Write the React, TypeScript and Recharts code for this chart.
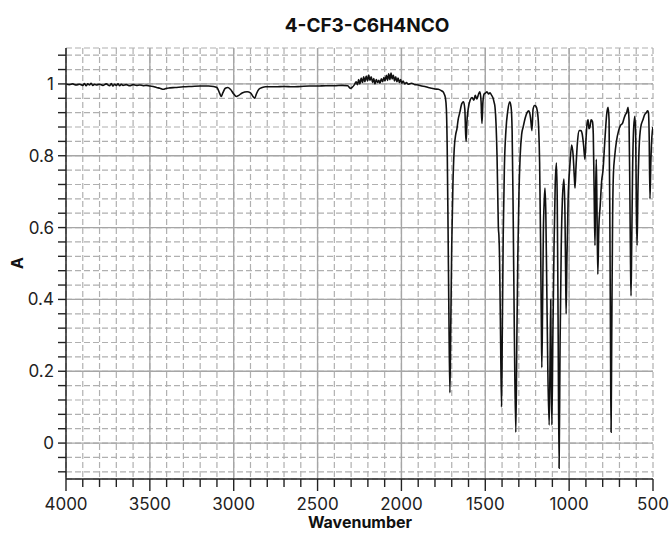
// IR spectrum of 4-CF3-C6H4NCO, recharts.

import { CartesianGrid, Line, LineChart, ReferenceLine, XAxis, YAxis } from "recharts";

// [wavenumber, absorbance], high -> low wavenumber
const highRegion: [number, number][] = [
	[4000, 1.0], [3980, 0.998], [3960, 1.0], [3940, 0.997], [3920, 0.999], [3900, 0.996],
	[3890, 1.001], [3880, 0.995], [3870, 1.0], [3860, 0.997], [3850, 1.002], [3840, 0.996],
	[3830, 0.999], [3820, 0.997], [3800, 0.999], [3780, 0.996], [3760, 1.0], [3740, 0.995],
	[3730, 1.001], [3720, 0.994], [3710, 0.999], [3700, 0.996], [3690, 1.0], [3680, 0.995],
	[3670, 0.999], [3660, 0.996], [3640, 0.998], [3620, 0.995], [3600, 0.998], [3580, 0.996],
	[3560, 0.997], [3540, 0.995], [3520, 0.996], [3500, 0.994], [3480, 0.993], [3460, 0.99],
	[3440, 0.988], [3420, 0.985], [3400, 0.988], [3380, 0.989], [3350, 0.99], [3300, 0.992],
	[3250, 0.993], [3200, 0.994], [3150, 0.994], [3120, 0.993], [3100, 0.99], [3085, 0.975],
	[3075, 0.965], [3065, 0.975], [3050, 0.988], [3035, 0.99], [3020, 0.985], [3000, 0.972],
	[2985, 0.965], [2970, 0.968], [2950, 0.975], [2920, 0.978], [2900, 0.975], [2885, 0.965],
	[2875, 0.96], [2865, 0.972], [2850, 0.985], [2830, 0.99], [2810, 0.992], [2750, 0.992],
	[2700, 0.993], [2650, 0.992], [2600, 0.993], [2550, 0.994], [2500, 0.994], [2450, 0.995],
	[2400, 0.995], [2350, 0.996], [2320, 0.995], [2305, 0.988], [2295, 0.99], [2280, 0.998],
	[2270, 1.006], [2262, 0.998], [2255, 1.012], [2248, 1.0], [2240, 1.016], [2232, 1.004],
	[2225, 1.02], [2218, 1.006], [2210, 1.022], [2202, 1.008], [2195, 1.025], [2188, 1.01],
	[2180, 1.02], [2172, 1.004], [2165, 1.015], [2158, 1.0], [2150, 1.012], [2142, 1.004],
	[2135, 1.01], [2128, 1.002], [2120, 1.014], [2112, 1.006], [2105, 1.018], [2098, 1.008],
	[2090, 1.024], [2083, 1.01], [2076, 1.028], [2069, 1.012], [2062, 1.03], [2055, 1.014],
	[2048, 1.024], [2041, 1.008], [2034, 1.02], [2027, 1.006], [2020, 1.016], [2012, 1.004],
	[2005, 1.012], [1998, 1.002], [1990, 1.008], [1980, 1.0], [1970, 1.004], [1960, 0.999],
	[1940, 1.002], [1920, 0.998], [1900, 0.997], [1880, 0.994], [1860, 0.993], [1840, 0.99],
	[1820, 0.988], [1800, 0.986], [1780, 0.985], [1765, 0.982],
];

const midRegion: [number, number][] = [
	[1752, 0.978], [1745, 0.972], [1738, 0.962], [1732, 0.93], [1727, 0.82], [1722, 0.6],
	[1717, 0.36], [1711, 0.14], [1706, 0.32], [1700, 0.55], [1693, 0.72], [1685, 0.82],
	[1676, 0.86], [1669, 0.875], [1662, 0.9], [1652, 0.92], [1640, 0.945], [1630, 0.95],
	[1622, 0.93], [1617, 0.86], [1614, 0.84], [1610, 0.89], [1602, 0.93], [1590, 0.955],
	[1579, 0.962], [1568, 0.955], [1560, 0.968], [1550, 0.958], [1540, 0.972], [1532, 0.978],
	[1525, 0.95], [1520, 0.89], [1514, 0.95], [1507, 0.972], [1498, 0.975], [1490, 0.978],
	[1480, 0.972], [1472, 0.975], [1462, 0.968], [1455, 0.962], [1448, 0.95], [1442, 0.935],
	[1436, 0.89], [1430, 0.8],
];

const fingerprintRegion: [number, number][] = [
	[1426, 0.7], [1422, 0.6], [1419, 0.58], [1415, 0.52], [1409, 0.3], [1403, 0.1],
	[1398, 0.34], [1393, 0.58], [1386, 0.77], [1377, 0.87], [1366, 0.925], [1354, 0.95],
	[1346, 0.935], [1340, 0.87], [1334, 0.65], [1327, 0.32], [1318, 0.03], [1312, 0.28],
	[1306, 0.52], [1299, 0.7], [1292, 0.8], [1283, 0.86], [1274, 0.88], [1262, 0.905],
	[1251, 0.92], [1240, 0.925], [1230, 0.905], [1222, 0.87], [1215, 0.93], [1206, 0.94],
	[1198, 0.938], [1190, 0.925], [1182, 0.88], [1176, 0.78], [1170, 0.55], [1166, 0.35],
	[1163, 0.21], [1159, 0.35], [1154, 0.58], [1148, 0.68], [1144, 0.71], [1139, 0.64],
	[1133, 0.42], [1127, 0.2], [1119, 0.05], [1114, 0.22], [1110, 0.4], [1107, 0.22],
	[1103, 0.05], [1097, 0.3], [1090, 0.55], [1083, 0.72], [1076, 0.78], [1071, 0.68],
	[1066, 0.35], [1060, -0.07], [1054, 0.28], [1047, 0.55], [1040, 0.68], [1031, 0.735],
	[1025, 0.64], [1021, 0.48], [1018, 0.36], [1013, 0.52], [1006, 0.68], [996, 0.77],
	[985, 0.83], [976, 0.8], [969, 0.74], [965, 0.71], [959, 0.77], [950, 0.84],
	[940, 0.87], [930, 0.87], [922, 0.86], [914, 0.83], [906, 0.79], [899, 0.85],
	[893, 0.89], [887, 0.9], [882, 0.875], [876, 0.88], [869, 0.9], [861, 0.895],
	[856, 0.86], [851, 0.7], [846, 0.55], [842, 0.7], [838, 0.79], [834, 0.65],
	[829, 0.47], [823, 0.6], [815, 0.66], [806, 0.73], [798, 0.76], [790, 0.82],
	[782, 0.88], [775, 0.92], [768, 0.935], [762, 0.9], [757, 0.6], [753, 0.25],
	[750, 0.03], [746, 0.3], [741, 0.62], [736, 0.75], [728, 0.8], [718, 0.84],
	[705, 0.87], [693, 0.885], [682, 0.89], [672, 0.905], [664, 0.915], [657, 0.92],
	[649, 0.935], [643, 0.9], [638, 0.7], [634, 0.5], [631, 0.41], [627, 0.55],
	[622, 0.75], [615, 0.88], [608, 0.91], [603, 0.85], [599, 0.65], [595, 0.55],
	[590, 0.7], [583, 0.82], [573, 0.88], [560, 0.9], [549, 0.915], [540, 0.92],
	[532, 0.925], [527, 0.92], [523, 0.86], [518, 0.68], [513, 0.78], [507, 0.85],
	[500, 0.88],
];

const xTicks = [
	4000, 3900, 3800, 3700, 3600, 3500, 3400, 3300, 3200, 3100, 3000, 2900, 2800, 2700, 2600,
	2500, 2400, 2300, 2200, 2100, 2000, 1900, 1800, 1700, 1600, 1500, 1400, 1300, 1200, 1100,
	1000, 900, 800, 700, 600, 500,
];
const xMajor = [4000, 3500, 3000, 2500, 2000, 1500, 1000, 500];
const yTicks = [
	-0.08, -0.04, 0, 0.04, 0.08, 0.12, 0.16, 0.2, 0.24, 0.28, 0.32, 0.36, 0.4, 0.44, 0.48, 0.52,
	0.56, 0.6, 0.64, 0.68, 0.72, 0.76, 0.8, 0.84, 0.88, 0.92, 0.96, 1, 1.04, 1.08,
];
const yMajor = [0, 0.2, 0.4, 0.6, 0.8, 1];

const data = [...highRegion, ...midRegion, ...fingerprintRegion].map(([w, a]) => ({ w, a }));

const isMajorY = (v: number) => yMajor.some((m) => Math.abs(m - v) < 1e-9);

function XTick({ x, y, payload }: any) {
	const major = xMajor.includes(payload.value);
	return (
		<g>
			<line x1={x} y1={y} x2={x} y2={y + (major ? 12 : 8)} stroke="#222" strokeWidth={1.4} />
			{major && (
				<text x={x} y={y + 31} textAnchor="middle" fontSize={17} fill="#222">
					{payload.value}
				</text>
			)}
		</g>
	);
}

function YTick({ x, y, payload }: any) {
	const major = isMajorY(payload.value);
	return (
		<g>
			<line x1={x} y1={y} x2={x - 8} y2={y} stroke="#222" strokeWidth={1.4} />
			{major && (
				<text x={x - 12} y={y + 6} textAnchor="end" fontSize={17} fill="#222">
					{String(Math.round(payload.value * 10) / 10)}
				</text>
			)}
		</g>
	);
}

const label = {
	position: "absolute" as const,
	transform: "translate(-50%, -50%)",
	fontWeight: 700,
	lineHeight: 1,
	whiteSpace: "nowrap" as const,
	color: "#111",
};

export default function App() {
	return (
		<div style={{ position: "relative", width: 672, height: 534, fontFamily: "Inter, sans-serif" }}>
			<style>{`body { margin: 0; } .recharts-surface { overflow: visible; }`}</style>
			<LineChart width={672} height={534} data={data} margin={{ top: 48, right: 19, bottom: 0, left: 0 }}>
				<CartesianGrid stroke="#b0b0b0" strokeDasharray="6 3" strokeWidth={1.2} />
				{xMajor.slice(1, -1).map((v) => (
					<ReferenceLine key={`x${v}`} x={v} stroke="#a6a6a6" strokeWidth={1.4} />
				))}
				{yMajor.map((v) => (
					<ReferenceLine key={`y${v}`} y={v} stroke="#a6a6a6" strokeWidth={1.4} />
				))}
				<XAxis
					dataKey="w"
					type="number"
					domain={[500, 4000]}
					reversed
					ticks={xTicks}
					interval={0}
					tickSize={0}
					tickMargin={0}
					tickLine={false}
					tick={<XTick />}
					height={55}
					axisLine={{ stroke: "#222", strokeWidth: 1.5 }}
					allowDataOverflow
				/>
				<YAxis
					type="number"
					domain={[-0.1, 1.1]}
					ticks={yTicks}
					interval={0}
					tickSize={0}
					tickMargin={0}
					tickLine={false}
					tick={<YTick />}
					width={66}
					axisLine={{ stroke: "#222", strokeWidth: 1.5 }}
					allowDataOverflow
				/>
				<Line
					type="monotone"
					dataKey="a"
					stroke="#111"
					strokeWidth={1.6}
					dot={false}
					isAnimationActive={false}
				/>
			</LineChart>
			<div style={{ ...label, left: 367, top: 25, fontSize: 19 }}>4-CF3-C6H4NCO</div>
			<div style={{ ...label, left: 360, top: 522, fontSize: 16 }}>Wavenumber</div>
			<div style={{ ...label, left: 17, top: 263, fontSize: 16, transform: "translate(-50%, -50%) rotate(-90deg)" }}>
				A
			</div>
		</div>
	);
}
